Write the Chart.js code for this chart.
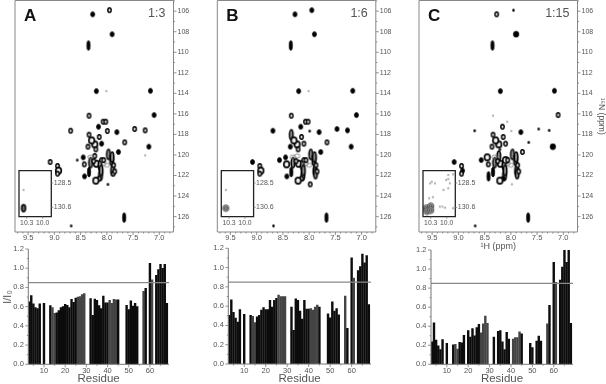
<!DOCTYPE html>
<html><head><meta charset="utf-8">
<style>
html,body{margin:0;padding:0;background:#fff;width:606px;height:384px;overflow:hidden;font-family:"Liberation Sans",Arial,sans-serif}
canvas{position:absolute}
.lab{position:absolute;white-space:nowrap}
.letter{font-weight:bold;font-size:17px;line-height:17px;color:#111}
.ratio{font-size:12.5px;line-height:13px;color:#555}
.ytitle{font-size:11px;line-height:12px;color:#555;transform:translate(-50%,-50%) rotate(-90deg);left:7px;top:297px}
</style>
<script src="https://cdn.jsdelivr.net/npm/chart.js@4"></script>
</head><body>
<script>
const panelLetters=["A","B","C"];
const panelRatios=["1:3","1:6","1:15"];
const residues=[3,4,5,6,7,8,10,13,14,15,16,17,18,19,20,21,22,23,24,25,26,27,28,29,32,33,34,35,36,37,38,39,40,41,42,43,44,45,49,50,51,52,53,54,57,58,60,61,63,64,65,66,67,68];
const ratioA=[.65,.715,.63,.59,.58,.63,.635,.61,.59,.53,.535,.56,.59,.60,.625,.615,.59,.675,.645,.69,.70,.705,.725,.735,.685,.51,.68,.665,.61,.58,.71,.64,.64,.665,.635,.675,.67,.67,.615,.57,.66,.605,.635,.60,.76,.79,1.05,.88,.925,.985,1.04,1.0,1.04,.635];
const ratioB=[.505,.665,.535,.475,.435,.565,.515,.505,.495,.43,.49,.505,.56,.585,.565,.565,.66,.59,.66,.68,.715,.70,.70,.70,.59,.35,.675,.66,.55,.465,.66,.57,.57,.575,.56,.59,.61,.59,.52,.48,.645,.55,.575,.51,.705,.37,1.10,.89,.97,1.01,1.14,1.05,1.125,.615];
const ratioC=[.235,.435,.255,.195,.155,.26,.22,.205,.21,.16,.23,.225,.305,null,.355,.285,.375,.30,.385,.42,.33,.425,.505,.43,.285,null,.345,.355,.235,.155,.335,.265,null,.265,.28,.28,.34,.32,.22,.175,null,.245,.295,.245,.425,.62,1.07,.86,.885,1.02,1.21,1.07,1.215,.43];
const grayResidues=[14,15,26,27,28,29,41,42,43,44,57,61];
const threshold=.85;
const peakH=[8.27,7.95,7.90,8.35,8.20,8.01,7.17,8.34,7.10,8.69,8.16,8.07,8.02,7.99,7.81,7.47,7.27,8.145,8.34,7.66,8.36,8.10,8.23,8.29,7.20,8.21,7.78,7.27,8.565,8.45,8.43,9.08,8.94,8.92,8.94,8.34,8.31,8.23,8.20,8.13,8.12,8.145,8.21,8.425,8.10,8.07,8.0,7.97,7.91,7.89,7.88,7.85,7.93,8.31,7.98,7.67,8.68,8.25,8.11,7.87,7.90,8.06];
const peakN=[106.3,105.9,108.24,109.34,113.78,113.78,113.75,116.18,116.11,117.64,117.25,116.76,116.76,117.67,117.77,117.47,117.6,118.25,118.03,118.77,119.19,118.9,118.97,118.58,119.19,119.45,119.71,120.04,120.49,120.23,120.91,120.68,121.07,121.53,121.82,121.66,120.75,120.1,120.85,121.0,121.98,122.3,122.5,122.08,120.5,120.85,121.0,119.94,120.52,121.5,121.82,121.6,120.1,120.2,122.86,126.1,126.9,120.6,121.5,121.0,120.2,120.5];
const kindsA=("sosTsfsoso"+"sooosooooo"+"osOOsosfds"+"oooOoTVoOV"+"VoOsoggVVV"+"ooggdTd"+"oVoVo").split("");
const kindsB=("sssTsfsoss"+"soodsssoVo"+"soOOsosnss"+"OsoOoTVgOV"+"VoOsoggVVV"+"VoggoTd"+"oVoVo").split("");
const kindsC=("odSTsnsfod"+"ofnfsddood"+"ooOOSdonsO"+"ososoTVVOV"+"VsOTOggVVV"+"VoggfTd"+"oVoVo").split("");
const insetH=[10.36,10.36];
const insetN=[130.67,129.1];
const insetKindsA=["I","f"];
const insetKindsB=["G","f"];
const insetCH=[10.34,10.39,10.30,10.37,10.30,10.31,10.22,10.28,10.33,10.26,10.13,10.08,10.03,9.97,9.88,9.97,10.01,10.06,9.97,9.94,9.88];
const insetCN=[130.68,130.68,130.5,130.95,130.85,128.53,128.53,128.39,129.82,129.73,130.54,130.54,130.63,127.81,127.75,128.16,128.24,129.1,128.96,128.53,130.68];
const insetCKinds=["G","G","G","G","G","f","f","f","f","f","f","f","f","f","f","f","f","f","f","f","f"];
const spectrumRangeH=[6.73,9.75];
const spectrumRangeN=[104.96,127.5];
const insetRangeH=[9.838,10.445];
const insetRangeN=[127.44,131.41];
const insetTicksH=[10.3,10.0];
const insetTicksN=[128.5,130.6];
const residueRange=[2.6,69];

const FONT='"Liberation Sans",Arial,sans-serif';
const GREY='#555';
function sprite(w,h,fn){const c=document.createElement('canvas');c.width=w;c.height=h;const g=c.getContext('2d');fn(g,w/2,h/2);return c;}
function ell(g,x,y,rx,ry,lw,col,fill){g.beginPath();g.ellipse(x,y,rx,ry,0,0,Math.PI*2);if(fill){g.fillStyle=fill;g.fill();}if(lw){g.lineWidth=lw;g.strokeStyle=col;g.stroke();}}
const sprites={
 f:sprite(4,4,(g,x,y)=>ell(g,x,y,.8,1.2,0,null,'#999')),
 d:sprite(5,5,(g,x,y)=>ell(g,x,y,1.3,1.5,0,null,'#111')),
 o:sprite(7,8,(g,x,y)=>ell(g,x,y,1.7,2.2,1.4,'#000','#ddd')),
 O:sprite(9,10,(g,x,y)=>{ell(g,x,y,2.8,3.1,1.6,'#000','#eee');}),
 G:sprite(9,10,(g,x,y)=>{ell(g,x,y,3,3.3,1,'#444','#bbb');ell(g,x,y,1.3,1.5,.9,'#222');}),
 I:sprite(8,11,(g,x,y)=>ell(g,x,y,2,3.4,1.5,'#000','#666')),
 g:sprite(9,8,(g,x,y)=>ell(g,x,y,2.8,2,.8,'#777')),
 s:sprite(7,8,(g,x,y)=>ell(g,x,y,2,2.5,.8,'#000','#000')),
 S:sprite(8,8,(g,x,y)=>ell(g,x,y,2.8,3,.6,'#000','#000')),
 T:sprite(8,14,(g,x,y)=>ell(g,x,y,1.7,5,.6,'#000','#000')),
 V:sprite(8,16,(g,x,y)=>{ell(g,x,y,1.7,5,1.6,'#000','#999');}),
};

const frameTicks={
 id:'frameTicks',
 afterDatasetsDraw(c,a,o){
  const g=c.ctx,A=c.chartArea;
  g.save();g.strokeStyle=o.color||'#777';g.lineWidth=o.lw||1;
  g.beginPath();
  if(o.frame){g.rect(A.left,A.top,A.right-A.left,A.bottom-A.top);}
  else{g.moveTo(A.left,A.top);g.lineTo(A.left,A.bottom);g.lineTo(A.right,A.bottom);}
  g.stroke();
  g.lineWidth=.8;g.strokeStyle='#777';g.beginPath();
  for(const id of ['x','y']){const s=c.scales[id];if(!s)continue;
   s.ticks.forEach((t)=>{const p=s.getPixelForValue(t.value);const L=(t.label!==''&&t.label!=null)?(o.major||3):(o.minor||1.5);
    if(id==='x'){g.moveTo(p,A.bottom);g.lineTo(p,A.bottom+L);}
    else if(s.position==='right'){g.moveTo(A.right,p);g.lineTo(A.right+L,p);}
    else{g.moveTo(A.left,p);g.lineTo(A.left-L,p);}
   });}
  g.stroke();g.restore();
 },
 beforeDraw(c,a,o){if(o.fill){const A=c.chartArea;c.ctx.save();c.ctx.fillStyle=o.fill;c.ctx.fillRect(A.left,A.top,A.right-A.left,A.bottom-A.top);c.ctx.restore();}}
};
Chart.register(frameTicks);

function noPad(s){s.paddingTop=0;s.paddingBottom=0;s.paddingLeft=0;s.paddingRight=0;}
function mk(rect,plot,cfg){
 const cv=document.createElement('canvas');cv.width=rect.w;cv.height=rect.h;
 cv.style.left=rect.x+'px';cv.style.top=rect.y+'px';cv.style.width=rect.w+'px';cv.style.height=rect.h+'px';
 document.body.appendChild(cv);
 const side=cfg.ySide;
 const pad={left:side==='left'?0:plot.l-rect.x,right:side==='left'?rect.x+rect.w-plot.r:0,top:plot.t-rect.y,bottom:0};
 const xW=rect.y+rect.h-plot.b,yW=side==='left'?plot.l-rect.x:rect.x+rect.w-plot.r;
 cfg.options.scales.x.afterFit=s=>{s.height=xW;noPad(s);};
 cfg.options.scales.y.afterFit=s=>{s.width=yW;noPad(s);};
 cfg.options.scales.x.grid={display:false,drawTicks:false};cfg.options.scales.y.grid={display:false,drawTicks:false};
 cfg.options.scales.x.border={display:false};cfg.options.scales.y.border={display:false};
 return new Chart(cv,{type:cfg.type,data:cfg.data,plugins:cfg.plugins||[],options:Object.assign({responsive:false,animation:false,devicePixelRatio:1,
  layout:{autoPadding:false,padding:pad},events:[]},cfg.options)});
}
function tickFont(sz){return {family:FONT,size:sz||7.5};}
function toPoints(xs,ys){const out=[];xs.forEach((x,i)=>{if(ys[i]!==null)out.push({x,y:ys[i]});});return out;}

function spectrum(i,left,kinds,insetXs,insetYs,insetK){
 const right=left+158.5;
 const pts=[],ks=[];
 peakH.forEach((h,j)=>{if(kinds[j]!=='n'){pts.push({x:h,y:peakN[j]});ks.push(kinds[j]);}});
 const rx=Math.floor(left)-1;
 const rect={x:rx,y:0,w:(i===2?606-rx:Math.ceil(right)+22-rx),h:i===2?252:244};
 const plot={l:left,r:right,t:.5,b:232};
 const xO={type:'linear',reverse:true,min:spectrumRangeH[0],max:spectrumRangeH[1],
   ticks:{stepSize:.1,autoSkip:false,includeBounds:false,maxRotation:0,minRotation:0,padding:1,color:GREY,font:tickFont(7.5),
    callback:v=>Math.round(v*10)%5===0?v.toFixed(1):''}};
 if(i===2){xO.title={display:true,text:'\u00B9H (ppm)',color:GREY,font:{family:FONT,size:9},padding:{top:0,bottom:0}};}
 const yO={type:'linear',position:'right',reverse:true,min:spectrumRangeN[0],max:spectrumRangeN[1],
   ticks:{stepSize:1,autoSkip:false,includeBounds:false,padding:4,color:GREY,font:tickFont(7),
    callback:v=>Math.round(v)%2===0?String(Math.round(v)):''}};
 if(i===2){yO.title={display:true,text:'\u00B9\u2075N (ppm)',color:GREY,font:{family:FONT,size:8.5},padding:{top:0,bottom:0}};}
 mk(rect,plot,{type:'scatter',ySide:'right',
  data:{datasets:[{data:pts,pointStyle:c=>sprites[ks[c.dataIndex]],clip:false}]},
  options:{plugins:{legend:{display:false},tooltip:{enabled:false},frameTicks:{frame:true,color:'#888',major:3,minor:1.5}},scales:{x:xO,y:yO}}});
 const il=left+4,ir=left+36.3;
 const iRect={x:Math.floor(il)-2,y:168,w:58,h:60};
 const iPlot={l:il,r:ir,t:170.7,b:216.7};
 const iPts=insetXs.map((x,j)=>({x,y:insetYs[j]}));
 mk(iRect,iPlot,{type:'scatter',ySide:'right',
  data:{datasets:[{data:iPts,pointStyle:c=>sprites[insetK[c.dataIndex]]}]},
  options:{plugins:{legend:{display:false},tooltip:{enabled:false},frameTicks:{frame:true,color:'#222',lw:1.3,fill:'#fff',major:2,minor:2}},
   scales:{
    x:{type:'linear',reverse:true,min:insetRangeH[0],max:insetRangeH[1],afterBuildTicks:s=>{s.ticks=insetTicksH.map(value=>({value}));},
     ticks:{autoSkip:false,maxRotation:0,minRotation:0,padding:2.5,color:GREY,font:tickFont(6.8),callback:v=>v.toFixed(1)}},
    y:{type:'linear',position:'right',reverse:true,min:insetRangeN[0],max:insetRangeN[1],afterBuildTicks:s=>{s.ticks=insetTicksN.map(value=>({value}));},
     ticks:{autoSkip:false,padding:2.5,color:GREY,font:tickFont(7),callback:v=>v.toFixed(1)}}
   }}});
 const L=document.createElement('div');L.className='lab letter';L.textContent=panelLetters[i];L.style.left=(left+9)+'px';L.style.top='7px';document.body.appendChild(L);
 const R=document.createElement('div');R.className='lab ratio';R.textContent=panelRatios[i];R.style.right=(606-(left+150.5))+'px';R.style.top='6.5px';document.body.appendChild(R);
}

function bars(i,left,right,top,bottom,values){
 const rx=i===0?0:Math.floor(left)-18;
 const rect={x:rx,y:240,w:Math.ceil(right)+6-rx,h:144};
 const plot={l:left,r:right,t:top,b:bottom};
 const yO={type:'linear',min:0,max:1.2,ticks:{stepSize:.1,autoSkip:false,padding:4.5,color:GREY,font:tickFont(7.5),
   callback:v=>Math.round(v*10)%2===0?v.toFixed(1):''}};
 mk(rect,plot,{type:'bar',ySide:'left',
  data:{datasets:[
   {type:'line',data:[{x:residueRange[0],y:threshold},{x:residueRange[1],y:threshold}],borderColor:'#888',borderWidth:1.2,pointRadius:0,order:0},
   {type:'bar',data:toPoints(residues,values),barThickness:1.75,
    backgroundColor:c=>c.raw&&grayResidues.includes(c.raw.x)?'#444':'#0c0c0c',order:1}
  ]},
  options:{plugins:{legend:{display:false},tooltip:{enabled:false},frameTicks:{frame:false,color:'#777',major:3,minor:1.5}},
   scales:{
    x:{type:'linear',offset:false,min:residueRange[0],max:residueRange[1],
     ticks:{stepSize:5,autoSkip:false,includeBounds:false,maxRotation:0,minRotation:0,padding:2,color:GREY,font:tickFont(7.5),
      callback:v=>v%10===0?String(v):''},
     title:{display:true,text:'Residue',color:GREY,font:{family:FONT,size:11.5},padding:{top:0,bottom:-2}}},
    y:yO}}});
}

const insetsAll=[[insetH,insetN,insetKindsA],[insetH,insetN,insetKindsB],[insetCH,insetCN,insetCKinds]];
[15,217.3,419].forEach((l,i)=>{const k=[kindsA,kindsB,kindsC][i];spectrum(i,l,k,insetsAll[i][0],insetsAll[i][1],insetsAll[i][2]);});
bars(0,28.3,169,249,364.3,ratioA);
bars(1,228.3,371,248.3,364,ratioB);
bars(2,431,573,250,364.3,ratioC);
const yTitle=document.createElement('div');yTitle.className='lab ytitle';yTitle.textContent='I/I\u2080';document.body.appendChild(yTitle);
</script>
</body></html>
